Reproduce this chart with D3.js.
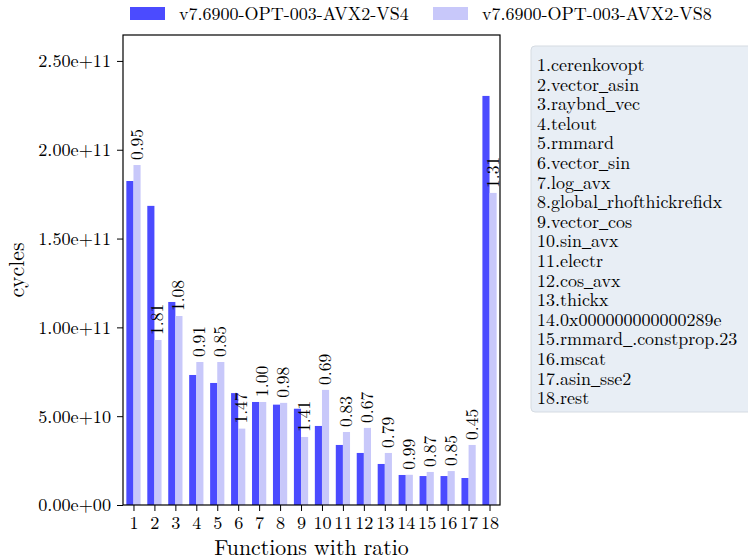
<!DOCTYPE html>
<html>
<head>
<meta charset="utf-8">
<script src="https://cdn.jsdelivr.net/npm/d3@7"></script>
<style>
  body { margin: 0; background: #fff; }
</style>
</head>
<body>
<svg id="chart"></svg>
<script>
const width = 748;
const height = 560;
const margin = { top: 35, right: 248, bottom: 55, left: 123 };
const font = '"Latin Modern Roman", "Liberation Serif", serif';

// Data
const categories = d3.range(1, 19);
const seriesNames = ["v7.6900-OPT-003-AVX2-VS4", "v7.6900-OPT-003-AVX2-VS8"];
const vs4 = [1.824e11, 1.684e11, 1.143e11, 7.32e10, 6.87e10, 6.30e10, 5.80e10, 5.65e10, 5.42e10,
             4.45e10, 3.38e10, 2.93e10, 2.31e10, 1.69e10, 1.63e10, 1.63e10, 1.52e10, 2.303e11];
const vs8 = [1.914e11, 9.29e10, 1.064e11, 8.05e10, 8.05e10, 4.30e10, 5.80e10, 5.75e10, 3.83e10,
             6.48e10, 4.11e10, 4.34e10, 2.93e10, 1.70e10, 1.86e10, 1.91e10, 3.38e10, 1.757e11];
const ratios = ["0.95", "1.81", "1.08", "0.91", "0.85", "1.47", "1.00", "0.98", "1.41",
                "0.69", "0.83", "0.67", "0.79", "0.99", "0.87", "0.85", "0.45", "1.31"];
const functionNames = ["cerenkovopt", "vector_asin", "raybnd_vec", "telout", "rmmard", "vector_sin",
                       "log_avx", "global_rhofthickrefidx", "vector_cos", "sin_avx", "electr", "cos_avx",
                       "thickx", "0x000000000000289e", "rmmard_.constprop.23", "mscat", "asin_sse2", "rest"];
const yTicks = [0, 5e10, 1e11, 1.5e11, 2e11, 2.5e11];
const colors = ["#4b4bff", "#c8c8fa"];

const svg = d3.select("#chart").attr("width", width).attr("height", height);

const x = d3.scaleLinear().domain([0.5, 18.5]).range([margin.left, width - margin.right]);
const y = d3.scaleLinear().domain([0, 2.646e11]).range([height - margin.bottom, margin.top]);
const barW = x(0.34) - x(0);

// 2.5e11 -> "2.50e+11"
const fmt = v => {
  const [m, e] = v.toExponential(2).split("e");
  return `${m}e${e[0]}${e.slice(1).padStart(2, "0")}`;
};

// Bars
const series = [vs4, vs8];
series.forEach((vals, s) => {
  svg.append("g").selectAll("rect")
    .data(categories)
    .join("rect")
    .attr("x", d => s === 0 ? x(d) - barW : x(d))
    .attr("y", (d, i) => y(vals[i]))
    .attr("width", barW)
    .attr("height", (d, i) => y(0) - y(vals[i]))
    .attr("fill", colors[s]);
});

// Ratio labels
svg.append("g").selectAll("text")
  .data(categories)
  .join("text")
  .attr("transform", (d, i) => `translate(${x(d) + barW / 2 + 5.5},${y(vs8[i]) - 5}) rotate(-90)`)
  .attr("font-size", 17.5)
  .style("font-family", font)
  .text((d, i) => ratios[i]);

// Axes
const xAxis = svg.append("g")
  .attr("transform", `translate(0,${height - margin.bottom})`)
  .call(d3.axisBottom(x).tickValues(categories).tickSize(6).tickPadding(5).tickFormat(d3.format("d")));
xAxis.select(".domain").remove();

const yAxis = svg.append("g")
  .attr("transform", `translate(${margin.left},0)`)
  .call(d3.axisLeft(y).tickValues(yTicks).tickSize(6).tickPadding(6).tickFormat(fmt));
yAxis.select(".domain").remove();

svg.selectAll(".tick text").attr("font-size", 18.2).attr("fill", "#000")
  .style("font-family", font);
svg.selectAll(".tick line").attr("stroke", "#000");

// Frame
svg.append("rect")
  .attr("x", margin.left).attr("y", margin.top)
  .attr("width", width - margin.right - margin.left)
  .attr("height", height - margin.bottom - margin.top)
  .attr("fill", "none").attr("stroke", "#000").attr("stroke-width", 1.2);

// Axis titles
svg.append("text")
  .attr("x", (margin.left + width - margin.right) / 2).attr("y", 555)
  .attr("text-anchor", "middle").attr("font-size", 21.8)
  .style("font-family", font)
  .text("Functions with ratio");
svg.append("text")
  .attr("transform", `translate(24,${(margin.top + height - margin.bottom) / 2}) rotate(-90)`)
  .attr("text-anchor", "middle").attr("font-size", 21.8)
  .style("font-family", font)
  .text("cycles");

// Top legend
const legend = svg.append("g");
const legendX = [130, 433];
seriesNames.forEach((name, s) => {
  legend.append("rect").attr("x", legendX[s]).attr("y", 7).attr("width", 35).attr("height", 13)
    .attr("fill", colors[s]);
  legend.append("text").attr("x", legendX[s] + 49).attr("y", 20).attr("font-size", 18)
    .style("font-family", font).text(name);
});

// Function name box
const box = svg.append("g");
box.append("rect")
  .attr("x", 531).attr("y", 46).attr("width", 230).attr("height", 366).attr("rx", 4)
  .attr("fill", "#e8eef5").attr("stroke", "#d5dbe2");
box.selectAll("text")
  .data(functionNames)
  .join("text")
  .attr("x", 537)
  .attr("y", (d, i) => 71 + i * 19.6)
  .attr("font-size", 18)
  .style("font-family", font)
  .each(function (d, i) {
    // LaTeX-style narrow underscore
    const t = d3.select(this);
    `${i + 1}.${d}`.split("_").forEach((part, k) => {
      if (k > 0) t.append("tspan").style("font-family", '"Liberation Serif", serif').text("_");
      t.append("tspan").text(part);
    });
  });
</script>
</body>
</html>
